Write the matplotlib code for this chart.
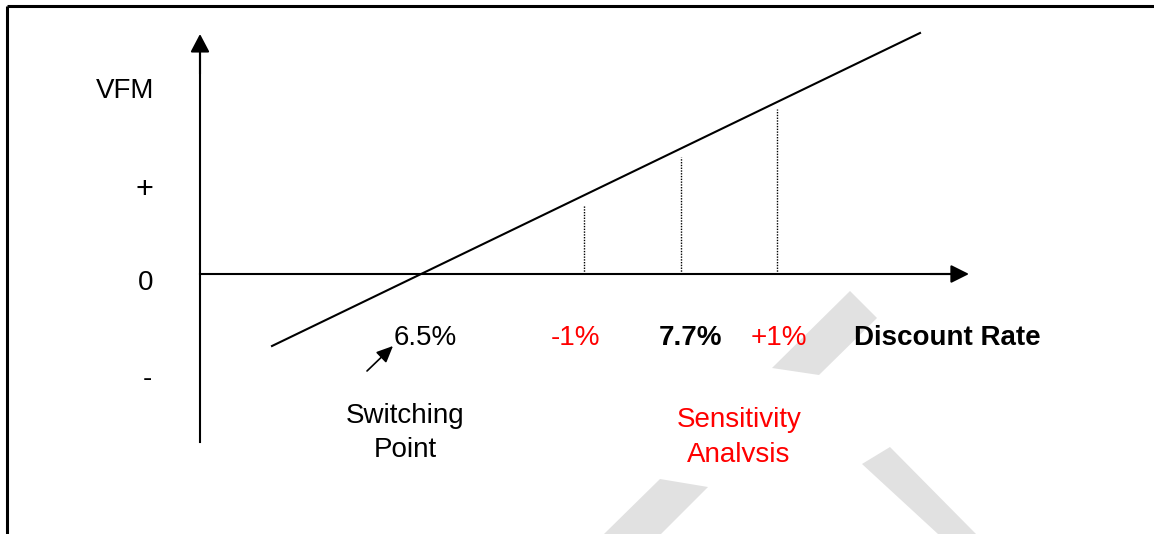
import matplotlib
matplotlib.use("Agg")
import matplotlib.pyplot as plt
from matplotlib.patches import Polygon, Rectangle

plt.rcParams["font.family"] = ["Liberation Sans", "DejaVu Sans"]

# VFM line (x in diagram units, y = VFM above the x-axis)
vfm_x = [272, 920]
vfm_y = [-72, 241]

# sensitivity markers on the discount rate axis
sens_x = [584, 681, 777]
sens_top = [69, 117, 165]

# labels under the x-axis
rate_labels = ["6.5%", "-1%", "7.7%", "+1%", "Discount Rate"]
rate_label_x = [425, 575, 691, 779, 947]
rate_label_color = ["black", "red", "black", "red", "black"]
rate_label_weight = ["normal", "normal", "bold", "normal", "bold"]

# labels left of the y-axis
y_labels = ["VFM", "+", "0", "-"]
y_label_x = [125, 144, 146, 147]
y_label_y = [176, 76, -16, -112]
y_label_size = [20, 22, 20, 20]

# light grey watermark fragments (figure pixels, y from top)
watermark = [
    [(850, 291), (877, 318), (819, 375), (772, 368)],
    [(660, 479), (708, 487), (661, 534), (604, 534)],
    [(862, 464), (890, 447), (976, 534), (938, 534)],
]

W, H = 1154, 534
fig = plt.figure(figsize=(W / 100, H / 100), dpi=100)
ax = fig.add_axes([0, 0, 1, 1])
ax.set_xlim(0, W)
ax.set_ylim(274 - H, 274)
ax.axis("off")

# watermark
for pts in watermark:
    ax.add_patch(Polygon([(x, 274 - y) for x, y in pts], closed=True,
                         facecolor="#e1e1e1", edgecolor="none", zorder=0))

# border (top and left only)
ax.plot([7, W], [274 - 6, 274 - 6], color="black", lw=2.2, solid_capstyle="butt")
ax.plot([7, 7], [274 - 6, 274 - H], color="black", lw=2.2, solid_capstyle="butt")

# axes with arrow heads
ax.plot([200, 200], [-168, 225], color="black", lw=1.5)
ax.annotate("", xy=(200, 240), xytext=(200, 200),
            arrowprops=dict(arrowstyle="-|>,head_length=1.1,head_width=0.58",
                            color="black", lw=1.5, shrinkA=0, shrinkB=0))
ax.plot([200, 955], [0, 0], color="black", lw=1.5)
ax.annotate("", xy=(969, 0), xytext=(930, 0),
            arrowprops=dict(arrowstyle="-|>,head_length=1.1,head_width=0.55",
                            color="black", lw=1.5, shrinkA=0, shrinkB=0))

# VFM line
ax.plot(vfm_x, vfm_y, color="black", lw=1.5)

# sensitivity dotted lines
for x, top in zip(sens_x, sens_top):
    ax.plot([x, x], [0, top], color="black", lw=1.0, linestyle=(0, (1, 1)))

# y-axis labels
for t, x, y, s in zip(y_labels, y_label_x, y_label_y, y_label_size):
    ax.text(x, y, t, fontsize=s, ha="center", va="baseline", color="black")

# x-axis labels
for t, x, c, w in zip(rate_labels, rate_label_x, rate_label_color, rate_label_weight):
    ax.text(x, 274 - 345, t, fontsize=20, ha="center", va="baseline",
            color=c, fontweight=w)

# switching point
ax.annotate("", xy=(393, 274 - 346), xytext=(367, 274 - 371),
            arrowprops=dict(arrowstyle="-|>,head_length=1.0,head_width=0.45",
                            color="black", lw=1.2, shrinkA=0, shrinkB=0))
ax.text(405, 274 - 423, "Switching", fontsize=20, ha="center", va="baseline")
ax.text(405, 274 - 457, "Point", fontsize=20, ha="center", va="baseline")

# sensitivity analysis (second line cut at the baseline as in the source)
ax.text(739, 274 - 427, "Sensitivity", fontsize=20, ha="center",
        va="baseline", color="red")
ax.text(739, 274 - 462, "Analysis", fontsize=20, ha="center",
        va="baseline", color="red", zorder=3)
ax.add_patch(Rectangle((680, 274 - 478), 120, 16, facecolor="white",
                       edgecolor="none", zorder=4))

fig.savefig("out.png", dpi=100)
